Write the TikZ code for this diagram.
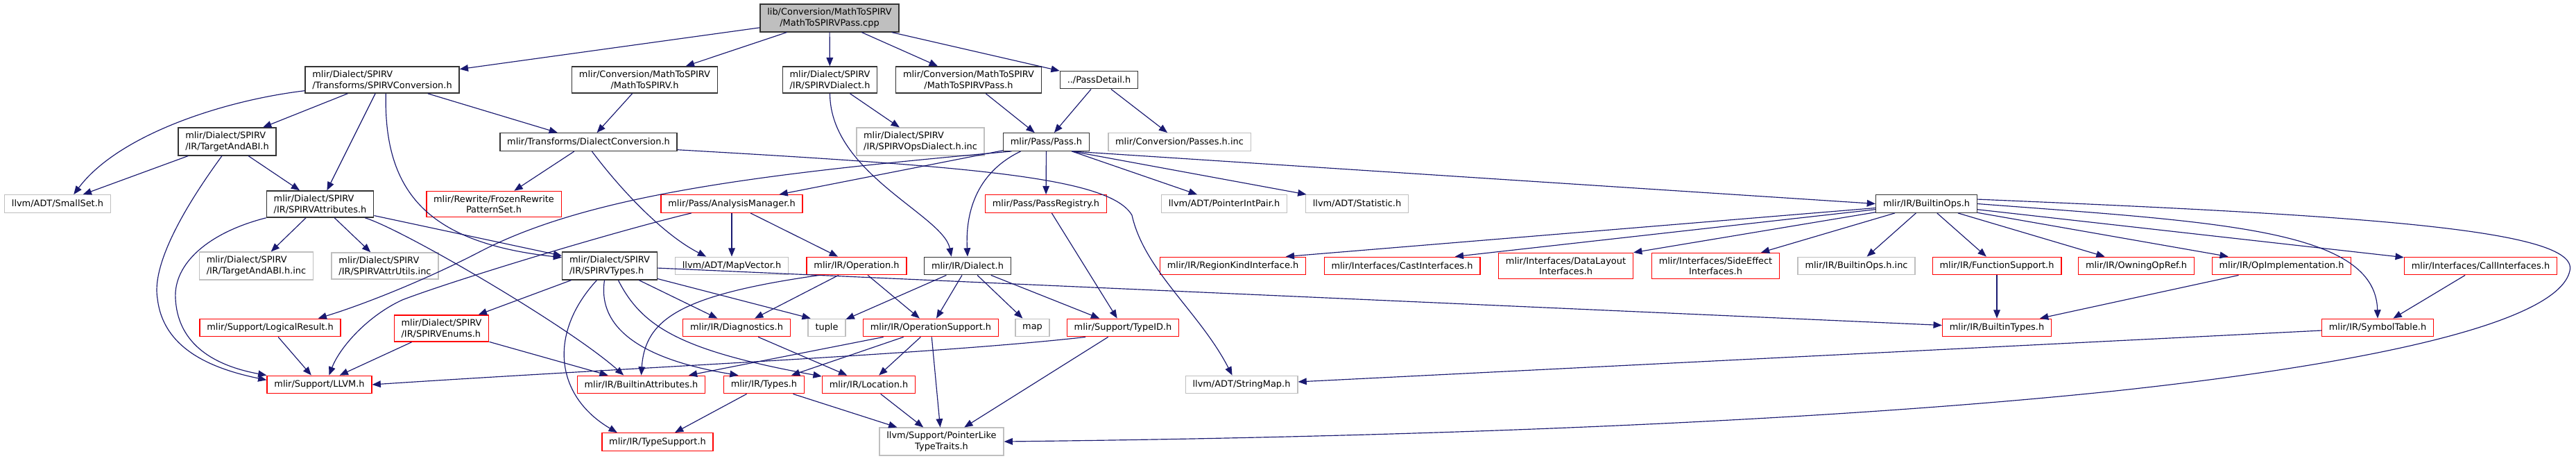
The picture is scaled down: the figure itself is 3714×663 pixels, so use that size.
\documentclass[tikz,border=0pt]{standalone}
\usepackage{fontspec}
\setmainfont{DejaVu Sans}
\usetikzlibrary{arrows.meta}

\definecolor{edgeblue}{HTML}{191970}
\definecolor{grey75}{HTML}{BFBFBF}
\definecolor{trunc}{HTML}{FF0000}

\begin{document}
\begin{tikzpicture}[x=0.0272cm, y=-0.0272cm, font=\fontsize{10}{12}\selectfont,
    hbox/.style={draw=black!80, line width=1.1pt, inner xsep=8pt, inner ysep=4.5pt,
                 minimum height=19.7pt, align=center},
    xbox/.style={hbox, draw=grey75},
    rbox/.style={hbox, draw=trunc},
    rootbox/.style={hbox, fill=grey75},
    inc/.style={edgeblue, line width=0.9pt, -{Triangle[length=9.5pt,width=7.5pt]}}]
  \useasboundingbox (0,0) rectangle (3714,663);

  \node[rootbox] (root) at (1196,26) {lib/Conversion/MathToSPIRV\\/MathToSPIRVPass.cpp};

  % first row of headers
  \node[hbox, align=left] (conv) at (551,115) {mlir/Dialect/SPIRV\\/Transforms/SPIRVConversion.h};
  \node[hbox] (mts) at (929.5,115) {mlir/Conversion/MathToSPIRV\\/MathToSPIRV.h};
  \node[hbox, align=left] (spvdialect) at (1196.5,115) {mlir/Dialect/SPIRV\\/IR/SPIRVDialect.h};
  \node[hbox] (mtspass) at (1396.5,115) {mlir/Conversion/MathToSPIRV\\/MathToSPIRVPass.h};
  \node[hbox] (passdetail) at (1584.5,115) {../PassDetail.h};

  \node[hbox, align=left] (tabi) at (327.5,204) {mlir/Dialect/SPIRV\\/IR/TargetAndABI.h};
  \node[hbox] (dconv) at (848.5,204.5) {mlir/Transforms/DialectConversion.h};
  \node[xbox, align=left] (opsdialinc) at (1327,204) {mlir/Dialect/SPIRV\\/IR/SPIRVOpsDialect.h.inc};
  \node[hbox] (pass) at (1508.5,204.5) {mlir/Pass/Pass.h};
  \node[xbox] (passesinc) at (1700.5,204.5) {mlir/Conversion/Passes.h.inc};

  \node[xbox] (smallset) at (83,293.5) {llvm/ADT/SmallSet.h};
  \node[hbox, align=left] (attrs) at (461.5,294) {mlir/Dialect/SPIRV\\/IR/SPIRVAttributes.h};
  \node[rbox] (frozen) at (712,294) {mlir/Rewrite/FrozenRewrite\\PatternSet.h};
  \node[rbox] (anamgr) at (1055,293.5) {mlir/Pass/AnalysisManager.h};
  \node[rbox] (passreg) at (1508,293.5) {mlir/Pass/PassRegistry.h};
  \node[xbox] (ptrint) at (1765,293.5) {llvm/ADT/PointerIntPair.h};
  \node[xbox] (statistic) at (1956.5,293.5) {llvm/ADT/Statistic.h};
  \node[hbox] (builtinops) at (2777.5,293.5) {mlir/IR/BuiltinOps.h};

  \node[xbox, align=left] (tabiinc) at (369.5,383) {mlir/Dialect/SPIRV\\/IR/TargetAndABI.h.inc};
  \node[xbox, align=left] (attrutils) at (555,383) {mlir/Dialect/SPIRV\\/IR/SPIRVAttrUtils.inc};
  \node[hbox, align=left] (spvtypes) at (879,383) {mlir/Dialect/SPIRV\\/IR/SPIRVTypes.h};
  \node[xbox] (mapvec) at (1055,383) {llvm/ADT/MapVector.h};
  \node[rbox] (operation) at (1235,383) {mlir/IR/Operation.h};
  \node[hbox] (dialect) at (1395,383) {mlir/IR/Dialect.h};
  \node[rbox] (regionkind) at (1777.5,383) {mlir/IR/RegionKindInterface.h};
  \node[rbox] (castif) at (2021.5,383) {mlir/Interfaces/CastInterfaces.h};
  \node[rbox] (datalayout) at (2257.5,383) {mlir/Interfaces/DataLayout\\Interfaces.h};
  \node[rbox] (sideeffect) at (2473.5,383) {mlir/Interfaces/SideEffect\\Interfaces.h};
  \node[xbox] (opsinc) at (2676.5,383) {mlir/IR/BuiltinOps.h.inc};
  \node[rbox] (funcsupport) at (2879,383) {mlir/IR/FunctionSupport.h};
  \node[rbox] (owning) at (3080,383) {mlir/IR/OwningOpRef.h};
  \node[rbox] (opimpl) at (3289.5,383) {mlir/IR/OpImplementation.h};
  \node[rbox] (callif) at (3576.5,383) {mlir/Interfaces/CallInterfaces.h};

  \node[rbox] (logres) at (389.5,472) {mlir/Support/LogicalResult.h};
  \node[rbox, align=left] (enums) at (636.5,473) {mlir/Dialect/SPIRV\\/IR/SPIRVEnums.h};
  \node[rbox] (diag) at (1062,472) {mlir/IR/Diagnostics.h};
  \node[xbox] (tuple) at (1192,472) {tuple};
  \node[rbox] (opsupport) at (1342,472) {mlir/IR/OperationSupport.h};
  \node[xbox] (map) at (1488.5,472) {map};
  \node[rbox] (typeid) at (1619,472) {mlir/Support/TypeID.h};
  \node[rbox] (builtintypes) at (2879,472) {mlir/IR/BuiltinTypes.h};
  \node[rbox] (symtab) at (3428,472) {mlir/IR/SymbolTable.h};

  \node[rbox] (llvmh) at (460.5,554) {mlir/Support/LLVM.h};
  \node[rbox] (battrs) at (924.5,554) {mlir/IR/BuiltinAttributes.h};
  \node[rbox] (types) at (1101.5,554) {mlir/IR/Types.h};
  \node[rbox] (location) at (1252.5,554) {mlir/IR/Location.h};
  \node[xbox] (stringmap) at (1790,554) {llvm/ADT/StringMap.h};

  \node[rbox] (typesupport) at (948,636.5) {mlir/IR/TypeSupport.h};
  \node[xbox] (ptrlike) at (1357.5,636) {llvm/Support/PointerLike\\TypeTraits.h};

  % straight includes
  \foreach \a/\b in {root/conv, root/mts, root/spvdialect, root/mtspass, root/passdetail,
      conv/tabi, conv/attrs, conv/dconv, mts/dconv, spvdialect/opsdialinc, mtspass/pass,
      passdetail/pass, passdetail/passesinc, tabi/smallset, tabi/attrs, dconv/frozen,
      pass/anamgr, pass/passreg, pass.-20/ptrint, pass.-20/statistic, pass.-20/builtinops.west,
      attrs/tabiinc, attrs/attrutils, attrs/spvtypes, anamgr/mapvec, anamgr/operation,
      passreg/typeid, spvtypes/enums, spvtypes/diag, spvtypes.-15/tuple.150,
      spvtypes/builtintypes, operation/opsupport, operation/diag,
      dialect/tuple, dialect/opsupport, dialect/map, dialect/typeid,
      enums/llvmh, enums/battrs, logres/llvmh, diag/location,
      opsupport/battrs, opsupport/types, opsupport/location, opsupport/ptrlike,
      typeid/ptrlike, types/typesupport, types/ptrlike, location/ptrlike,
      builtinops/regionkind.10, builtinops/castif.10, builtinops/datalayout.north east,
      builtinops/sideeffect, builtinops/opsinc, builtinops/funcsupport, builtinops/owning,
      builtinops/opimpl, builtinops/callif, funcsupport/builtintypes,
      opimpl/builtintypes, callif/symtab, symtab/stringmap}
    \draw[inc] (\a) -- (\b);

  % bent includes
  \draw[inc] (conv.188) .. controls (320,145) and (170,195) .. (smallset.30);
  \draw[inc] (conv.-75) .. controls (553,280) and (620,350) .. (spvtypes.170);
  \draw[inc] (spvdialect.south) .. controls (1197,250) and (1360,310) .. (dialect.150);
  \draw[inc] (pass.200) .. controls (1405,250) and (1392,310) .. (dialect.north);
  \draw[inc] (pass.195) .. controls (1100,250) and (850,280) .. (691,363)
             .. controls (610,405) and (520,440) .. (logres.11);
  \draw[inc] (tabi.-110) .. controls (250,320) and (220,390) .. (227,430)
             .. controls (235,500) and (300,530) .. (llvmh.175);
  \draw[inc] (attrs.south west) .. controls (300,335) and (250,380) .. (253,430)
             .. controls (256,490) and (300,525) .. (llvmh.170);
  \draw[inc] (attrs.-17) .. controls (580,330) and (820,470) .. (battrs.152);
  \draw[inc] (anamgr.193) .. controls (880,335) and (650,405) .. (580,432)
             .. controls (530,455) and (490,500) .. (llvmh.44);
  \draw[inc] (dconv.-70) .. controls (900,280) and (960,340) .. (mapvec.160);
  \draw[inc] (dconv.-5) .. controls (1400,240) and (1600,255) .. (1632,310)
             .. controls (1650,390) and (1730,450) .. (stringmap.135);
  \draw[inc] (typeid.194) .. controls (1350,510) and (900,530) .. (llvmh.east);
  \draw[inc] (spvtypes.228) .. controls (790,480) and (800,570) .. (typesupport.167);
  \draw[inc] (spvtypes.250) .. controls (860,480) and (940,520) .. (types.160);
  \draw[inc] (spvtypes.-59) .. controls (925,470) and (980,505) .. (location.170);
  \draw[inc] (operation.194) .. controls (980,425) and (930,460) .. (battrs.north);
  \draw[inc] (builtinops.east) .. controls (3200,320) and (3425,330) .. (symtab.north);
  \draw[inc] (builtinops.5) .. controls (3400,310) and (3720,330) .. (3705,390)
             .. controls (3690,460) and (3450,520) .. (3050,563)
             .. controls (2600,610) and (2000,630) .. (ptrlike.east);
\end{tikzpicture}
\end{document}
